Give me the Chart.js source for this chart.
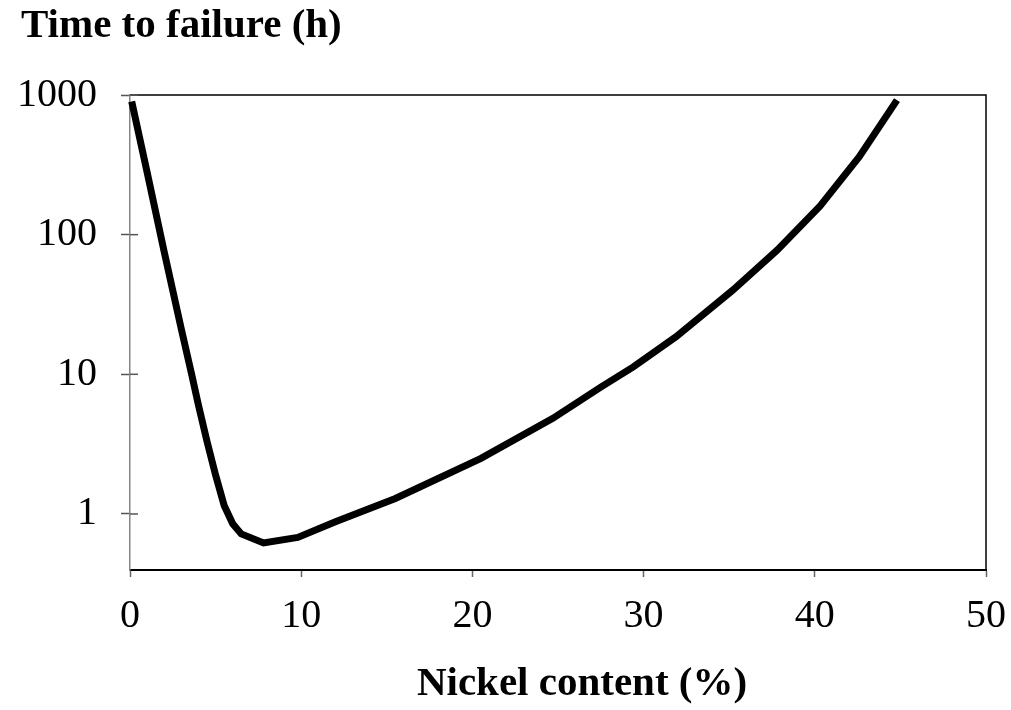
<!DOCTYPE html>
<html>
<head>
<meta charset="utf-8">
<script src="https://cdn.jsdelivr.net/npm/chart.js@4.4.0/dist/chart.umd.min.js"></script>
<style>
html,body{margin:0;padding:0;background:#fff;}
#wrap{width:1011px;height:710px;position:relative;}
</style>
</head>
<body>
<div id="wrap"><canvas id="c"></canvas></div>
<script>
// ---- data ----
const nickelContent = [0.1, 1, 2, 3, 3.6, 4, 4.5, 5, 5.5, 6, 6.5, 7.8, 9.8, 12, 15.5, 20.5, 24.7, 27.5, 29.4, 31.9, 35.2, 37.8, 40.3, 42.6, 44.8];
const timeToFailure = [900, 280, 75, 21, 10, 6, 3.3, 1.9, 1.15, 0.85, 0.72, 0.62, 0.68, 0.88, 1.29, 2.5, 4.84, 8.1, 11.3, 18.6, 40, 77.5, 160, 361, 919];
const xTickValues = [0, 10, 20, 30, 40, 50];
const yTickValues = [1, 10, 100, 1000];
const yTitle = 'Time to failure (h)';
const xTitle = 'Nickel content (%)';

const points = nickelContent.map((x, i) => ({x: x, y: timeToFailure[i]}));

const decor = {
  id: 'decor',
  afterDraw(chart) {
    const ctx = chart.ctx, a = chart.chartArea;
    ctx.save();
    ctx.strokeStyle = '#000';
    ctx.lineWidth = 1.5;
    ctx.beginPath();
    ctx.moveTo(a.left, a.top);
    ctx.lineTo(a.right, a.top);
    ctx.lineTo(a.right, a.bottom);
    ctx.stroke();
    const ys = chart.scales.y;
    ctx.strokeStyle = '#555';
    ctx.lineWidth = 1.5;
    ys.ticks.forEach(t => {
      const py = ys.getPixelForValue(t.value);
      ctx.beginPath();
      ctx.moveTo(a.left, py);
      ctx.lineTo(a.left + 8, py);
      ctx.stroke();
    });
    ctx.fillStyle = '#000';
    ctx.font = 'bold 41px "Liberation Serif"';
    ctx.textBaseline = 'alphabetic';
    ctx.textAlign = 'left';
    ctx.fillText(yTitle, 21, 37);
    ctx.textAlign = 'center';
    ctx.fillText(xTitle, 582, 695);
    ctx.restore();
  }
};

new Chart(document.getElementById('c'), {
  type: 'line',
  data: {
    datasets: [{
      data: points,
      borderColor: '#000',
      borderWidth: 7,
      pointRadius: 0,
      tension: 0,
      fill: false,
      clip: false
    }]
  },
  options: {
    responsive: true,
    maintainAspectRatio: false,
    animation: false,
    events: [],
    layout: {padding: {top: 95, right: 25, bottom: 0, left: 0}},
    plugins: {legend: {display: false}, tooltip: {enabled: false}, title: {display: false}},
    scales: {
      x: {
        type: 'linear',
        min: 0, max: 50,
        afterBuildTicks: s => { s.ticks = xTickValues.map(v => ({value: v})); },
        afterFit: s => { s.height = 140; s.paddingRight = 0; s.paddingLeft = 0; },
        ticks: {
          color: '#000',
          font: {family: '"Liberation Serif"', size: 40},
          padding: 15,
          maxRotation: 0,
          callback: v => String(v)
        },
        grid: {drawOnChartArea: false, drawTicks: true, tickLength: 7, tickColor: '#666', tickWidth: 1.5},
        border: {display: true, color: '#000', width: 2}
      },
      y: {
        type: 'logarithmic',
        min: 0.397, max: 1000,
        afterBuildTicks: s => { s.ticks = yTickValues.map(v => ({value: v})); },
        afterFit: s => { s.width = 130; s.paddingTop = 0; s.paddingBottom = 0; },
        ticks: {
          color: '#000',
          font: {family: '"Liberation Serif"', size: 40},
          padding: 24,
          callback: v => String(v)
        },
        grid: {drawOnChartArea: false, drawTicks: true, tickLength: 9, tickColor: '#555', tickWidth: 1.5},
        border: {display: true, color: '#868686', width: 1.5}
      }
    }
  },
  plugins: [decor]
});
</script>
</body>
</html>
